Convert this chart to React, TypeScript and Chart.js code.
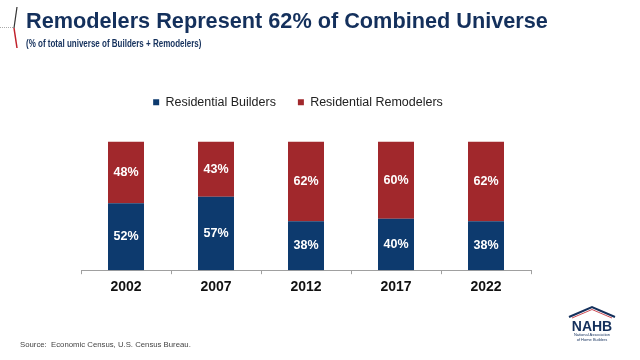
import React, { useEffect, useRef } from "react";
import { Chart, registerables } from "chart.js";

Chart.register(...registerables);

const years = ["2002", "2007", "2012", "2017", "2022"];
const builders = [52, 57, 38, 40, 38];
const remodelers = [48, 43, 62, 60, 62];
const seriesNames = ["Residential Builders", "Residential Remodelers"];

const BLUE = "#0d3a6e";
const RED = "#a1282c";
const NAVY = "#14305c";

const labelPlugin = {
  id: "barLabels",
  afterDatasetsDraw(chart: any) {
    const ctx = chart.ctx;
    ctx.save();
    ctx.fillStyle = "#ffffff";
    ctx.font = "bold 12.5px 'Liberation Sans', Arial, sans-serif";
    ctx.textAlign = "center";
    ctx.textBaseline = "middle";
    chart.data.datasets.forEach((ds: any, di: number) => {
      const meta = chart.getDatasetMeta(di);
      meta.data.forEach((el: any, i: number) => {
        const v = ds.data[i];
        const cy = (el.y + el.base) / 2;
        ctx.fillText(v + "%", el.x, cy);
      });
    });
    ctx.restore();
  },
};

const legendSpacer = {
  id: "legendSpacer",
  beforeInit(chart: any) {
    const orig = chart.legend.fit;
    chart.legend.fit = function () {
      orig.bind(this)();
      this.height += 23;
    };
  },
  afterLayout(chart: any) {
    if (chart.legend) {
      chart.legend.left -= 8;
      chart.legend.right -= 8;
    }
  },
};

function App() {
  const ref = useRef<HTMLCanvasElement>(null);
  useEffect(() => {
    document.body.style.margin = "0";
    const chart = new Chart(ref.current!, {
      type: "bar",
      data: {
        labels: years,
        datasets: [
          { label: seriesNames[0], data: builders, backgroundColor: BLUE },
          { label: seriesNames[1], data: remodelers, backgroundColor: RED },
        ],
      },
      options: {
        animation: false,
        responsive: false,
        layout: { padding: { top: 74, left: 81, right: 109, bottom: 59 } },
        datasets: { bar: { barPercentage: 0.4, categoryPercentage: 1 } },
        plugins: {
          legend: {
            position: "top",
            labels: {
              boxWidth: 6,
              boxHeight: 6,
              color: "#222",
              padding: 22,
              font: { size: 12.5, family: "'Liberation Sans', Arial, sans-serif" },
            },
          },
          tooltip: { enabled: false },
        },
        scales: {
          x: {
            stacked: true,
            grid: {
              display: true,
              offset: true,
              drawOnChartArea: false,
              drawTicks: true,
              tickLength: 4,
              color: "#a0a0a0",
            },
            border: { display: true, color: "#a0a0a0" },
            ticks: {
              padding: 5,
              color: "#111",
              font: { size: 14, weight: "bold", family: "'Liberation Sans', Arial, sans-serif" },
            },
          },
          y: { stacked: true, display: false, min: 0, max: 100 },
        },
      },
      plugins: [labelPlugin, legendSpacer],
    } as any);
    return () => chart.destroy();
  }, []);

  return (
    <div style={{ position: "relative", width: 640, height: 360, background: "#fff", overflow: "hidden" }}>
      <canvas ref={ref} width={640} height={360} style={{ position: "absolute", left: 0, top: 0 }} />
      <svg width={30} height={60} style={{ position: "absolute", left: 0, top: 0 }}>
        <line x1={0} y1={27.5} x2={13} y2={27.5} stroke="#aaa" strokeWidth={1} strokeDasharray="1,1" />
        <line x1={17} y1={7} x2={14} y2={28} stroke="#333" strokeWidth={1.2} />
        <line x1={14} y1={28} x2={17} y2={48} stroke="#c0202a" strokeWidth={1.5} />
      </svg>
      <div
        style={{
          position: "absolute",
          left: 26,
          top: 8,
          fontFamily: "'Liberation Sans', Arial, sans-serif",
          fontWeight: "bold",
          fontSize: 21.7,
          color: NAVY,
          whiteSpace: "nowrap",
          lineHeight: "26px",
        }}
      >
        Remodelers Represent 62% of Combined Universe
      </div>
      <div
        style={{
          position: "absolute",
          left: 26,
          top: 38,
          fontFamily: "'Liberation Sans', Arial, sans-serif",
          fontWeight: "bold",
          fontSize: 10,
          color: NAVY,
          whiteSpace: "nowrap",
          lineHeight: "12px",
          transform: "scaleX(0.8)",
          transformOrigin: "0 0",
        }}
      >
        (% of total universe of Builders + Remodelers)
      </div>
      <div
        style={{
          position: "absolute",
          left: 20,
          top: 340,
          fontFamily: "'Liberation Sans', Arial, sans-serif",
          fontSize: 8,
          color: "#444",
          whiteSpace: "nowrap",
          lineHeight: "10px",
          transform: "scaleX(0.97)",
          transformOrigin: "0 0",
        }}
      >
        Source:&nbsp; Economic Census, U.S. Census Bureau.
      </div>
      <svg width={60} height={40} style={{ position: "absolute", left: 566, top: 304 }}>
        <polyline points="3,13 26,3 49,13" fill="none" stroke={NAVY} strokeWidth={2} />
        <polyline points="6,14 26,5.5 46,14" fill="none" stroke="#c0202a" strokeWidth={0.8} />
        <text x={26} y={27} textAnchor="middle" fontFamily="'Liberation Sans', Arial, sans-serif" fontWeight="bold" fontSize={14} fill={NAVY}>
          NAHB
        </text>
        <text x={26} y={32} textAnchor="middle" fontFamily="'Liberation Sans', Arial, sans-serif" fontSize={4} fill={NAVY}>
          National Association
        </text>
        <text x={26} y={36.5} textAnchor="middle" fontFamily="'Liberation Sans', Arial, sans-serif" fontSize={4} fill={NAVY}>
          of Home Builders
        </text>
      </svg>
    </div>
  );
}

export default App;
